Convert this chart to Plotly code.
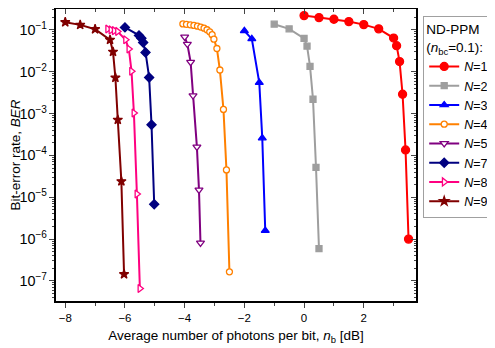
import plotly.graph_objects as go

# ---- data (x in dB, y = BER) ----
names = ["N=1", "N=2", "N=3", "N=4", "N=5", "N=7", "N=8", "N=9"]

x_n1 = [0, 0.5, 1.0, 1.5, 2.0, 2.5, 3.0, 3.1, 3.2, 3.3, 3.4, 3.5]
y_n1 = [0.22, 0.197, 0.18, 0.158, 0.134, 0.106, 0.064, 0.042, 0.0175, 0.0029, 1.35e-4, 1.0e-6]

x_n2 = [-1.0, -0.5, 0.0, 0.1, 0.2, 0.3, 0.4, 0.5]
y_n2 = [0.137, 0.106, 0.063, 0.041, 0.0135, 0.0022, 5.2e-5, 5.9e-7]

x_n3 = [-2.0, -1.75, -1.5, -1.4, -1.3]
y_n3 = [0.095, 0.061, 0.0055, 2.6e-4, 1.6e-6]

x_n4 = [-4.06, -3.94, -3.81, -3.69, -3.57, -3.46, -3.35, -3.25, -3.16, -3.08, -3.02,
        -2.92, -2.82, -2.7, -2.6, -2.5]
y_n4 = [0.139, 0.136, 0.132, 0.128, 0.123, 0.117, 0.110, 0.101, 0.090, 0.077, 0.060,
        0.036, 0.011, 0.00126, 4.5e-5, 1.65e-7]

x_n5 = [-4.0, -3.91, -3.8, -3.72, -3.59, -3.52, -3.47]
y_n5 = [0.068, 0.046, 0.017, 0.0027, 1.6e-4, 1.5e-5, 8.1e-7]

x_n7 = [-6.0, -5.53, -5.45, -5.39, -5.31, -5.19, -5.11, -5.02]
y_n7 = [0.115, 0.074, 0.063, 0.050, 0.029, 0.0073, 5.4e-4, 6.8e-6]

x_n8 = [-6.58, -6.47, -6.36, -6.25, -5.98, -5.87, -5.78, -5.70, -5.60, -5.50]
y_n8 = [0.105, 0.100, 0.096, 0.092, 0.058, 0.035, 0.0103, 0.00103, 1.2e-5, 6.6e-8]

x_n9 = [-8.0, -7.5, -7.0, -6.5, -6.4, -6.32, -6.24, -6.12, -6.03]
y_n9 = [0.153, 0.132, 0.104, 0.058, 0.030, 0.0072, 7.1e-4, 2.4e-5, 1.45e-7]

xs = [x_n1, x_n2, x_n3, x_n4, x_n5, x_n7, x_n8, x_n9]
ys = [y_n1, y_n2, y_n3, y_n4, y_n5, y_n7, y_n8, y_n9]

colors = ["#FF0000", "#9E9E9E", "#0000FF", "#FF8000", "#800080", "#000080", "#FF0080", "#800000"]
symbols = ["circle", "square", "triangle-up", "circle", "triangle-down", "diamond", "triangle-right", "star"]
fills = ["#FF0000", "#9E9E9E", "#0000FF", "white", "white", "#000080", "white", "#800000"]
sizes = [8, 6, 7, 6, 7, 7, 7, 7]

FONT = "Liberation Sans, Arial, sans-serif"

fig = go.Figure()
for i, n in enumerate(names):
    label = "<i>N</i>=" + n.split("=")[1]
    fig.add_trace(go.Scatter(
        x=xs[i], y=ys[i], mode="lines+markers", name=label,
        line=dict(color=colors[i], width=2),
        marker=dict(symbol=symbols[i], size=sizes[i], color=fills[i],
                    line=dict(color=colors[i], width=1.3)),
    ))

# invisible trace on mirrored axes (top/right) for inward ticks
fig.add_trace(go.Scatter(x=[0], y=[0.01], xaxis="x2", yaxis="y2", mode="markers",
                         marker=dict(opacity=0), showlegend=False, hoverinfo="skip"))

xr = [-8.31, 3.75]
yr = [-7.48, -0.5]

# page body has an 8px margin: compensate so plot area sits at x 56..416, y 9..301 on the page
fig.update_layout(
    width=495, height=348,
    margin=dict(l=48, r=87, t=1, b=55, autoexpand=False),
    paper_bgcolor="white", plot_bgcolor="white",
    font=dict(family=FONT, size=12, color="black"),
    showlegend=True,
    legend=dict(
        x=1.02, y=0.977, xanchor="left", yanchor="top",
        bordercolor="#A0A0A0", borderwidth=1, bgcolor="white",
        font=dict(family=FONT, size=12.5),
        title=dict(text="ND-PPM<br>(<i>n</i><sub>bc</sub>=0.1):", font=dict(family=FONT, size=13.5)),
        tracegroupgap=0, itemwidth=30,
    ),
    xaxis=dict(
        range=xr, dtick=2, tick0=0, ticks="outside", ticklen=5, tickwidth=1,
        showline=True, linecolor="black", linewidth=1.5, showgrid=False, zeroline=False,
        tickfont=dict(size=11.5), automargin=True,
        minor=dict(dtick=1, tick0=0, ticks="outside", ticklen=3, tickwidth=1),
        title=dict(text="Average number of photons per bit, <i>n</i><sub>b</sub> [dB]",
                   font=dict(size=13.5), standoff=8),
    ),
    yaxis=dict(
        type="log", range=yr, dtick=1, exponentformat="power", showexponent="all",
        ticks="outside", ticklen=5, tickwidth=1, automargin=True,
        showline=True, linecolor="black", linewidth=1.5, showgrid=False, zeroline=False,
        tickfont=dict(size=11.5),
        minor=dict(dtick="D1", ticks="outside", ticklen=2.5, tickwidth=1),
        title=dict(text="Bit-error rate, <i>BER</i>", font=dict(size=13.5), standoff=8),
    ),
    xaxis2=dict(
        range=xr, overlaying="x", side="top", anchor="y", dtick=2, tick0=0,
        ticks="inside", ticklen=5, showticklabels=False, showline=True,
        linecolor="black", linewidth=1.5, showgrid=False, zeroline=False,
        minor=dict(dtick=1, tick0=0, ticks="inside", ticklen=3),
    ),
    yaxis2=dict(
        type="log", range=yr, overlaying="y", side="right", anchor="x", dtick=1,
        ticks="inside", ticklen=5, showticklabels=False, showline=True,
        linecolor="black", linewidth=1.5, showgrid=False, zeroline=False,
        minor=dict(dtick="D1", ticks="inside", ticklen=2.5),
    ),
)

fig.write_html("out.html")
